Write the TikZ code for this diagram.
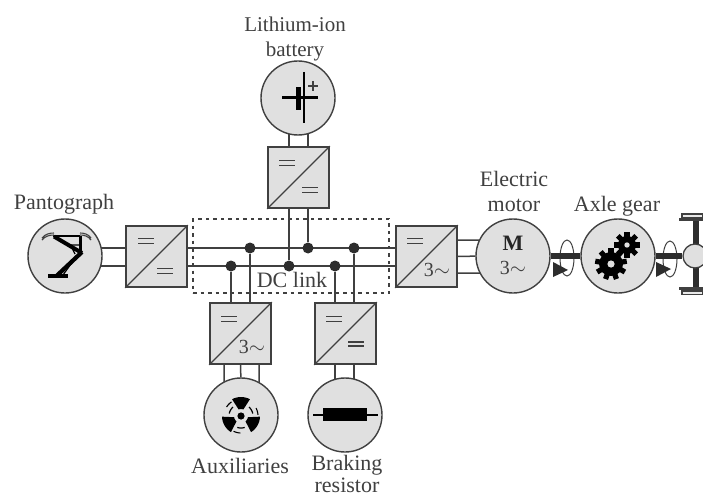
\documentclass[tikz,border=0pt]{standalone}
\usepackage{fontspec}
\setmainfont{Liberation Serif}
\usetikzlibrary{backgrounds}
\definecolor{ink}{HTML}{404040}
\definecolor{fillg}{HTML}{E0E0E0}
\tikzset{x=1pt,y=-1pt,
  unit/.style={circle,draw=ink,line width=1.4pt,fill=fillg,minimum size=74pt,inner sep=0pt},
  conv/.style={rectangle,draw=ink,line width=1.6pt,fill=fillg,minimum size=61pt,inner sep=0pt},
  wire/.style={draw=ink,line width=1.5pt},
  dcdot/.style={circle,fill=ink!70!black,minimum size=11pt,inner sep=0pt},
  lab/.style={font=\fontsize{22}{25}\selectfont,text=ink,align=center,inner sep=0pt},
  sym/.style={font=\fontsize{20}{22}\selectfont,text=ink,inner sep=0pt},
  shaft/.style={draw=ink!70!black,line width=5.5pt},
  diag/.style={draw=ink,line width=1.3pt},
  thin rot/.style={draw=ink,line width=1pt}
}
\newcommand{\eqsign}[3][1.2]{\draw[draw=ink,line width=#1pt] (#2-8,#3-2.4) -- (#2+8,#3-2.4) (#2-8,#3+2.4) -- (#2+8,#3+2.4);}
\newcommand{\gearicon}[4]{%
  \foreach \a in {1,...,#4}{\fill[black,rotate around={360*\a/#4:(#1,#2)}] (#1-2.6,#2-#3-4) rectangle (#1+2.6,#2);}
  \fill[black] (#1,#2) circle[radius=#3 pt];
  \fill[fillg] (#1,#2) circle[radius=0.3*#3 pt];
}
\newcommand{\fanblade}[1]{%
  \fill[black] plot[domain=#1-28:#1+28,samples=9] ({241+19*cos(\x)},{416+19*sin(\x)})
     -- plot[domain=#1+20:#1-20,samples=5] ({241+7*cos(\x)},{416+7*sin(\x)}) -- cycle;
}
\newcommand{\fanarc}[1]{%
  \draw[black,line width=1.2pt] plot[domain=#1-18:#1+18,samples=9] ({241+12*cos(\x)},{416+12*sin(\x)});
  \draw[black,line width=1.1pt] plot[domain=#1+2:#1+26,samples=7] ({241+17*cos(\x)},{416+17*sin(\x)});
}
\begin{document}
\begin{tikzpicture}
\useasboundingbox (0,0) rectangle (703,497);
% dashed box
\node[draw=ink,line width=1.3pt,dash pattern=on 3.5pt off 4pt,minimum width=196pt,minimum height=74pt,inner sep=0pt] (dc) at (291,256) {};
% units
\node[unit] (panto) at (65,256) {};
\node[conv] (c1) at (156.5,256.5) {};
\node[unit] (batt) at (298,98) {};
\node[conv] (c2) at (298.5,177.5) {};
\node[conv] (c3) at (240.5,333.5) {};
\node[conv] (c4) at (345.5,333.5) {};
\node[conv] (c5) at (426.5,256.5) {};
\node[unit] (aux) at (241,415) {};
\node[unit] (brake) at (345,415) {};
\node[unit] (motor) at (513,256) {};
\node[unit] (gear) at (618,256) {};
% bus junction dots
\node[dcdot] (d1) at (250,248) {};
\node[dcdot] (d2) at (308,248) {};
\node[dcdot] (d3) at (354,248) {};
\node[dcdot] (d4) at (231,266) {};
\node[dcdot] (d5) at (289,266) {};
\node[dcdot] (d6) at (335,266) {};
% axle
\draw[shaft] (696,216) -- (696,292);
\node[circle,draw=ink,line width=1.3pt,fill=fillg,minimum size=24pt,inner sep=0pt] (axle) at (695,256) {};
\draw[ink,line width=1.4pt,fill=fillg!70!white] (682,214) rectangle (703,217.5) (682,291) rectangle (703,294.5);
\draw[ink,line width=3pt] (679,219.5) -- (703,219.5) (679,288.5) -- (703,288.5);
% wires and shafts
\begin{pgfonlayer}{background}
\fill[white] (0,0) rectangle (703,497);
\draw[wire] (c1.center |- d1) -- (c5.center |- d1);
\draw[wire] (c1.center |- d4) -- (c5.center |- d4);
\draw[wire] (d1) -- (d1 |- c3.center);
\draw[wire] (d4) -- (d4 |- c3.center);
\draw[wire] (d3) -- (d3 |- c4.center);
\draw[wire] (d6) -- (d6 |- c4.center);
\draw[wire] (d2) -- (d2 |- batt.center);
\draw[wire] (d5) -- (d5 |- batt.center);
\draw[wire] (c1.center |- d1) -- (panto.center |- d1);
\draw[wire] (c1.center |- d4) -- (panto.center |- d4);
\draw[wire] (224,333) -- (224,415) (aux) -- (c3) (259,333) -- (259,415);
\draw[wire] (d6 |- brake.center) -- (d6 |- c4.center) (d3 |- brake.center) -- (d3 |- c4.center);
\draw[wire] (c5.center |- 0,240) -- (motor.center |- 0,240) (c5) -- (motor) (c5.center |- 0,273) -- (motor.center |- 0,273);
\draw[shaft] (motor) -- (gear);
\draw[shaft] (gear) -- (axle);
\end{pgfonlayer}
% rotation marks
\draw[thin rot] (567,258) ellipse[x radius=7pt,y radius=18pt];
\draw[thin rot] (670,259) ellipse[x radius=7pt,y radius=18pt];
\draw[shaft] (558,256) -- (576,256);
\draw[shaft] (661,256) -- (679,256);
\fill[ink!70!black] (553,262) -- (568,270) -- (553,277) -- cycle;
\fill[ink!70!black] (656,262) -- (671,269) -- (656,277) -- cycle;
% diagonals
\foreach \n in {c1,c2,c3,c4,c5}{\draw[diag] (\n.south west) -- (\n.north east);}
% symbols in converters
\eqsign{146}{241}\eqsign{165}{271}
\eqsign{287}{163}\eqsign{310}{190}
\eqsign{229}{319}
\eqsign{334}{319}
\eqsign[2]{356}{344}
\eqsign{415}{241}
\node[sym] (t3a) at (252,347) {3$\sim$};
\node[sym] (t3b) at (437,270) {3$\sim$};
% motor
\node[sym,font=\fontsize{22}{22}\selectfont\bfseries,text=black!85] (mM) at (513,243) {M};
\node[sym] (m3) at (513,268) {3$\sim$};
% battery
\draw[black,line width=2.2pt] (282,97.5) -- (318,97.5);
\draw[black,line width=2.4pt] (304,72) -- (304,123);
\fill[black] (296,87) rectangle (301,110);
\draw[ink,line width=1.5pt] (308,86) -- (318,86) (313,81) -- (313,91);
% pantograph
\draw[black,line width=2.2pt] (53,236) -- (80,236);
\draw[black,line width=4pt] (54,236.5) -- (82,253);
\draw[black,line width=3pt] (80,236) -- (80,254);
\draw[black,line width=4.2pt] (82,252) -- (57,275.5);
\draw[black,line width=3.2pt] (48,276) -- (68,276);
\draw[black,line width=1.2pt] (76,257) -- (63,275);
\draw[black,line width=1.2pt] (67,245) -- (80,245) (71,246) -- (75,254);
\draw[ink,line width=1.1pt] (42,240) .. controls (45,236) and (50,235) .. (54,235)
  (80,235) .. controls (84,235) and (88,236) .. (91,240)
  (42,238) .. controls (45,234) and (50,233) .. (54,233)
  (80,233) .. controls (84,233) and (88,234) .. (91,238);
% resistor
\draw[black,line width=2pt] (313,415) -- (378,415);
\fill[black] (323,408) rectangle (367,421);
% fan
\fanblade{-90}\fanblade{30}\fanblade{150}
\fanarc{-30}\fanarc{90}\fanarc{210}
\fill[black] (241,416) circle[radius=3.6pt];
% gears
\gearicon{611}{264}{12}{9}
\gearicon{627}{245}{9}{8}
% labels
\node[lab,font=\fontsize{21}{25}\selectfont] (lb1) at (295,39) {Lithium-ion\\battery};
\node[lab] (lb2) at (64,204) {Pantograph};
\node[lab] (lb3) at (514,191) {Electric\\motor};
\node[lab] (lb4) at (617,206) {Axle gear};
\node[lab] (lb5) at (240,466) {Auxiliaries};
\node[lab] (lb6) at (347,465) {Braking};
\node[lab] (lb8) at (347,485) {resistor};
\node[lab] (lb7) at (292,280) {DC link};
\end{tikzpicture}
\end{document}
